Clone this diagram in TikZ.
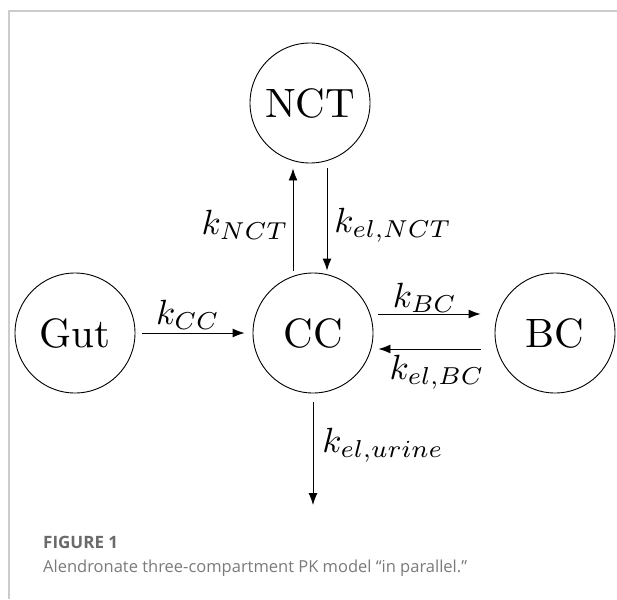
\RequirePackage{fix-cm}
\documentclass[tikz,border=0pt]{standalone}
\usepackage{fontspec}
\usetikzlibrary{arrows.meta}
\newfontfamily\capfont{Open Sans}
\newfontfamily\lmten{lmroman10-regular}[Extension=.otf]
\definecolor{framegray}{HTML}{CCCCCC}
\definecolor{figgray}{HTML}{6A6A6A}
\definecolor{capgray}{HTML}{7A7A7A}
\begin{document}
\begin{tikzpicture}[x=1pt,y=-1pt,
  comp/.style={circle,draw,line width=0.9pt,minimum size=120pt,inner sep=0pt,
    font=\lmten\fontsize{41}{48}\selectfont},
  flow/.style={line width=0.9pt,-{Latex[length=12pt,width=9pt]}},
  rate/.style={inner sep=0pt,scale=3.5},
  frame/.style={draw=framegray,line width=1.2pt}]
\useasboundingbox (0,0) rectangle (617,599);
% frame
\coordinate (ftl) at (9,11);
\coordinate (ftr) at (617,11);
\coordinate (fbl) at (9,599);
\draw[frame] (fbl) -- (ftl) -- (ftr);
% compartments
\node[comp] (Gut) at (75,333) {Gut};
\node[comp] (CC)  at (313,333) {CC};
\node[comp] (BC)  at (555,333) {BC};
\node[comp] (NCT) at (310,103) {NCT};
\coordinate (urine) at (313,505);
% connectors
\draw[flow,shorten <=7pt,shorten >=8pt] (Gut.east) -- (CC.west);
\draw[flow] ([xshift=5pt,yshift=19pt]CC.east) -- ([xshift=-14pt,yshift=19pt]BC.west);
\draw[flow] ([xshift=-14pt,yshift=-16pt]BC.west) -- ([xshift=5pt,yshift=-16pt]CC.east);
\draw[flow] ([xshift=-20pt,yshift=2pt]CC.north) -- ([xshift=-17pt,yshift=-5pt]NCT.south);
\draw[flow] ([xshift=17pt,yshift=-5pt]NCT.south) -- ([xshift=14pt,yshift=2pt]CC.north);
\draw[flow] ([yshift=-9pt]CC.south) -- (urine);
% rate labels
\node[rate] (lcc)  at (188,315) {$k_{CC}$};
\node[rate] (lbc)  at (425,298) {$k_{BC}$};
\node[rate] (lelbc) at (437,372) {$k_{el,BC}$};
\node[rate] (lnct) at (245,225) {$k_{NCT}$};
\node[rate] (lelnct) at (393,225) {$k_{el,NCT}$};
\node[rate] (lur) at (383,445) {$k_{el,urine}$};
% caption
\node[anchor=base west,inner sep=0pt,text=figgray,font=\capfont\bfseries\fontsize{17}{20}\selectfont] (figlabel) at (43,548) {FIGURE 1};
\node[anchor=base west,inner sep=0pt,text=capgray,font=\capfont\fontsize{16.5}{20}\selectfont] (figcap) at (43,572) {Alendronate three-compartment PK model “in parallel.”};
\end{tikzpicture}
\end{document}
